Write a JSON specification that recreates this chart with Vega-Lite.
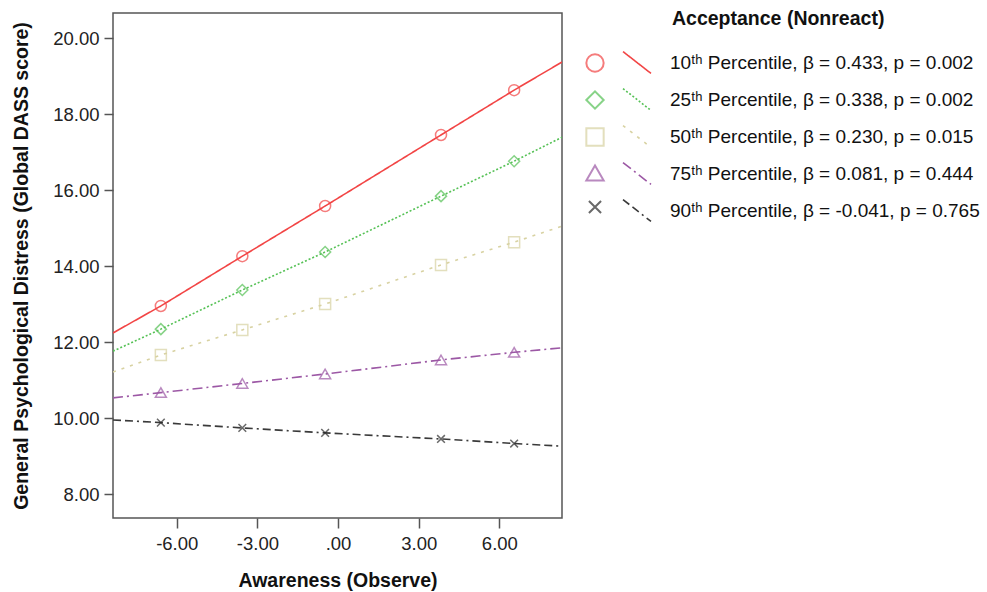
{
  "$schema": "https://vega.github.io/schema/vega-lite/v6.json",
  "width": 449,
  "height": 505,
  "autosize": {"type": "none"},
  "padding": {"left": 113, "top": 13, "right": 425, "bottom": 74},
  "config": {
    "font": "Liberation Sans",
    "view": {"stroke": "#555555", "strokeWidth": 1.5},
    "axis": {"grid": false, "domain": false, "tickColor": "#555555", "tickWidth": 1.5, "labelColor": "#222222", "titleColor": "#111111"}
  },
  "datasets": {
    "lines": [
      {"series": "10ᵗʰ Percentile, β = 0.433, p = 0.002", "x": -8.37, "y": 12.24},
      {"series": "10ᵗʰ Percentile, β = 0.433, p = 0.002", "x": -6.59, "y": 12.95},
      {"series": "10ᵗʰ Percentile, β = 0.433, p = 0.002", "x": -3.56, "y": 14.26},
      {"series": "10ᵗʰ Percentile, β = 0.433, p = 0.002", "x": -0.48, "y": 15.58},
      {"series": "10ᵗʰ Percentile, β = 0.433, p = 0.002", "x": 3.83, "y": 17.45},
      {"series": "10ᵗʰ Percentile, β = 0.433, p = 0.002", "x": 6.55, "y": 18.63},
      {"series": "10ᵗʰ Percentile, β = 0.433, p = 0.002", "x": 8.33, "y": 19.37},
      {"series": "25ᵗʰ Percentile, β = 0.338, p = 0.002", "x": -8.37, "y": 11.76},
      {"series": "25ᵗʰ Percentile, β = 0.338, p = 0.002", "x": -6.59, "y": 12.34},
      {"series": "25ᵗʰ Percentile, β = 0.338, p = 0.002", "x": -3.56, "y": 13.37},
      {"series": "25ᵗʰ Percentile, β = 0.338, p = 0.002", "x": -0.48, "y": 14.37},
      {"series": "25ᵗʰ Percentile, β = 0.338, p = 0.002", "x": 3.83, "y": 15.84},
      {"series": "25ᵗʰ Percentile, β = 0.338, p = 0.002", "x": 6.55, "y": 16.76},
      {"series": "25ᵗʰ Percentile, β = 0.338, p = 0.002", "x": 8.33, "y": 17.39},
      {"series": "50ᵗʰ Percentile, β = 0.230, p = 0.015", "x": -8.37, "y": 11.21},
      {"series": "50ᵗʰ Percentile, β = 0.230, p = 0.015", "x": -6.59, "y": 11.66},
      {"series": "50ᵗʰ Percentile, β = 0.230, p = 0.015", "x": -3.56, "y": 12.32},
      {"series": "50ᵗʰ Percentile, β = 0.230, p = 0.015", "x": -0.48, "y": 13.0},
      {"series": "50ᵗʰ Percentile, β = 0.230, p = 0.015", "x": 3.83, "y": 14.03},
      {"series": "50ᵗʰ Percentile, β = 0.230, p = 0.015", "x": 6.55, "y": 14.63},
      {"series": "50ᵗʰ Percentile, β = 0.230, p = 0.015", "x": 8.33, "y": 15.05},
      {"series": "75ᵗʰ Percentile, β = 0.081, p = 0.444", "x": -8.37, "y": 10.53},
      {"series": "75ᵗʰ Percentile, β = 0.081, p = 0.444", "x": -6.59, "y": 10.67},
      {"series": "75ᵗʰ Percentile, β = 0.081, p = 0.444", "x": -3.56, "y": 10.91},
      {"series": "75ᵗʰ Percentile, β = 0.081, p = 0.444", "x": -0.48, "y": 11.16},
      {"series": "75ᵗʰ Percentile, β = 0.081, p = 0.444", "x": 3.83, "y": 11.53},
      {"series": "75ᵗʰ Percentile, β = 0.081, p = 0.444", "x": 6.55, "y": 11.73},
      {"series": "75ᵗʰ Percentile, β = 0.081, p = 0.444", "x": 8.33, "y": 11.85},
      {"series": "90ᵗʰ Percentile, β = -0.041, p = 0.765", "x": -8.37, "y": 9.95},
      {"series": "90ᵗʰ Percentile, β = -0.041, p = 0.765", "x": -6.59, "y": 9.88},
      {"series": "90ᵗʰ Percentile, β = -0.041, p = 0.765", "x": -3.56, "y": 9.74},
      {"series": "90ᵗʰ Percentile, β = -0.041, p = 0.765", "x": -0.48, "y": 9.61},
      {"series": "90ᵗʰ Percentile, β = -0.041, p = 0.765", "x": 3.83, "y": 9.45},
      {"series": "90ᵗʰ Percentile, β = -0.041, p = 0.765", "x": 6.55, "y": 9.33},
      {"series": "90ᵗʰ Percentile, β = -0.041, p = 0.765", "x": 8.33, "y": 9.26}
    ],
    "markers": [
      {"pctl": "10", "x": -6.59, "y": 12.95},
      {"pctl": "10", "x": -3.56, "y": 14.26},
      {"pctl": "10", "x": -0.48, "y": 15.58},
      {"pctl": "10", "x": 3.83, "y": 17.45},
      {"pctl": "10", "x": 6.55, "y": 18.63},
      {"pctl": "25", "x": -6.59, "y": 12.34},
      {"pctl": "25", "x": -3.56, "y": 13.37},
      {"pctl": "25", "x": -0.48, "y": 14.37},
      {"pctl": "25", "x": 3.83, "y": 15.84},
      {"pctl": "25", "x": 6.55, "y": 16.76},
      {"pctl": "50", "x": -6.59, "y": 11.66},
      {"pctl": "50", "x": -3.56, "y": 12.32},
      {"pctl": "50", "x": -0.48, "y": 13.0},
      {"pctl": "50", "x": 3.83, "y": 14.03},
      {"pctl": "50", "x": 6.55, "y": 14.63},
      {"pctl": "75", "x": -6.59, "y": 10.67},
      {"pctl": "75", "x": -3.56, "y": 10.91},
      {"pctl": "75", "x": -0.48, "y": 11.16},
      {"pctl": "75", "x": 3.83, "y": 11.53},
      {"pctl": "75", "x": 6.55, "y": 11.73},
      {"pctl": "90", "x": -6.59, "y": 9.88},
      {"pctl": "90", "x": -3.56, "y": 9.74},
      {"pctl": "90", "x": -0.48, "y": 9.61},
      {"pctl": "90", "x": 3.83, "y": 9.45},
      {"pctl": "90", "x": 6.55, "y": 9.33}
    ]
  },
  "layer": [
    {
      "data": {"name": "lines"},
      "mark": {"type": "line", "strokeWidth": 1.6, "clip": true},
      "encoding": {
        "x": {
          "field": "x", "type": "quantitative",
          "scale": {"domain": [-8.37, 8.33], "nice": false, "zero": false},
          "axis": {
            "values": [-6, -3, 0, 3, 6],
            "labelExpr": "datum.value == 0 ? '.00' : (datum.value < 0 ? '-' : '') + format(abs(datum.value), '.2f')",
            "title": "Awareness (Observe)",
            "tickSize": 10, "labelFontSize": 18.5, "labelPadding": 6,
            "titleFontSize": 19.5, "titleFontWeight": "bold", "titlePadding": 19
          }
        },
        "y": {
          "field": "y", "type": "quantitative",
          "scale": {"domain": [7.37, 20.66], "nice": false, "zero": false},
          "axis": {
            "values": [8, 10, 12, 14, 16, 18, 20],
            "format": ".2f",
            "title": "General Psychological Distress (Global DASS score)",
            "tickSize": 9, "labelFontSize": 18.5, "labelPadding": 5,
            "titleFontSize": 19.5, "titleFontWeight": "bold", "titlePadding": 21
          }
        },
        "color": {
          "field": "series", "type": "nominal",
          "scale": {
            "domain": ["10ᵗʰ Percentile, β = 0.433, p = 0.002", "25ᵗʰ Percentile, β = 0.338, p = 0.002", "50ᵗʰ Percentile, β = 0.230, p = 0.015", "75ᵗʰ Percentile, β = 0.081, p = 0.444", "90ᵗʰ Percentile, β = -0.041, p = 0.765"],
            "range": ["#f24545", "#55c155", "#d8d2a2", "#9c58a5", "#3a3a3a"]
          },
          "legend": {
            "title": "Acceptance (Nonreact)", "orient": "none", "legendX": 559, "legendY": -3,
            "symbolType": "M-1,-0.78L1,0.78", "symbolSize": 784, "symbolStrokeWidth": 1.6,
            "symbolOffset": -50, "labelOffset": 18, "labelFontSize": 19, "labelColor": "#111111",
            "titleFontSize": 19.5, "titleFontWeight": "bold", "titleColor": "#111111", "titlePadding": 18,
            "titleLimit": 400, "rowPadding": 7, "labelLimit": 400
          }
        },
        "strokeDash": {
          "field": "series", "type": "nominal",
          "scale": {
            "domain": ["10ᵗʰ Percentile, β = 0.433, p = 0.002", "25ᵗʰ Percentile, β = 0.338, p = 0.002", "50ᵗʰ Percentile, β = 0.230, p = 0.015", "75ᵗʰ Percentile, β = 0.081, p = 0.444", "90ᵗʰ Percentile, β = -0.041, p = 0.765"],
            "range": [[1, 0], [2, 2], [3, 6], [10, 4, 2, 4], [8, 4, 8, 4, 2, 4]]
          },
          "legend": {
            "title": "Acceptance (Nonreact)", "orient": "none", "legendX": 559, "legendY": -3,
            "symbolType": "M-1,-0.78L1,0.78", "symbolSize": 784, "symbolStrokeWidth": 1.6,
            "symbolOffset": -50, "labelOffset": 18, "labelFontSize": 19, "labelColor": "#111111",
            "titleFontSize": 19.5, "titleFontWeight": "bold", "titleColor": "#111111", "titlePadding": 18,
            "titleLimit": 400, "rowPadding": 7, "labelLimit": 400
          }
        }
      }
    },
    {
      "data": {"name": "markers"},
      "mark": {"type": "point", "filled": false, "strokeWidth": 1.5, "size": 121},
      "encoding": {
        "x": {"field": "x", "type": "quantitative"},
        "y": {"field": "y", "type": "quantitative"},
        "stroke": {
          "field": "pctl", "type": "nominal",
          "scale": {"domain": ["10", "25", "50", "75", "90"], "range": ["#f24545", "#55c155", "#d8d2a2", "#9c58a5", "#2a2a2a"]},
          "legend": {"title": null, "orient": "none", "legendX": 472, "legendY": 40, "symbolSize": 300, "symbolStrokeWidth": 2, "labelExpr": "''", "labelFontSize": 1, "rowPadding": 11}
        },
        "shape": {
          "field": "pctl", "type": "nominal",
          "scale": {"domain": ["10", "25", "50", "75", "90"], "range": ["circle", "diamond", "square", "triangle-up", "M-0.7,-0.7L0.7,0.7M-0.7,0.7L0.7,-0.7"]},
          "legend": {"title": null, "orient": "none", "legendX": 472, "legendY": 40, "symbolSize": 300, "symbolStrokeWidth": 2, "labelExpr": "''", "labelFontSize": 1, "rowPadding": 11}
        }
      }
    }
  ]
}
